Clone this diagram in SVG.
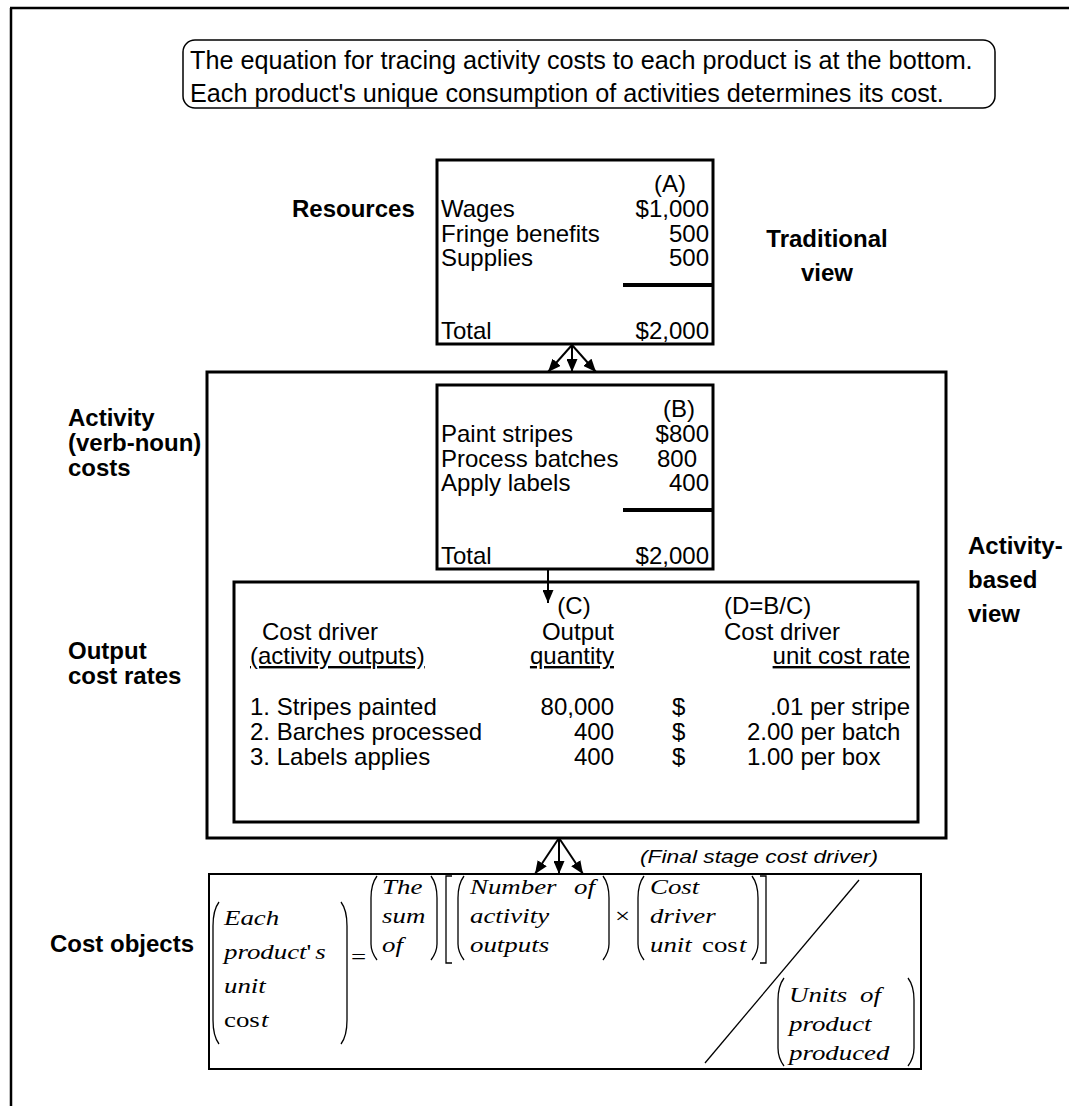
<svg xmlns="http://www.w3.org/2000/svg" width="1069" height="1106" viewBox="0 0 1069 1106">
<style>
  text { font-family: "Liberation Sans", Arial, Helvetica, sans-serif; font-size: 24px; fill: #000; }
  .b { font-weight: bold; }
  .r { text-anchor: end; }
  .m { text-anchor: middle; }
  .ul { text-decoration: underline; }
  .it { font-style: italic; }
  .eq { font-family: "Liberation Serif", "Times New Roman", Times, serif; font-style: italic; font-size: 21px; }
  .up { font-style: normal; }
  .box { fill: none; stroke: #000; stroke-width: 3; }
  .thin { fill: none; stroke: #000; stroke-width: 2; }
  .fence { fill: none; stroke: #000; stroke-width: 1.3; }
  .conn { stroke: #000; stroke-width: 2; fill: none; marker-end: url(#head); }
</style>
<defs>
  <marker id="head" viewBox="0 0 13 11" refX="13" refY="5.5" markerWidth="13" markerHeight="11" markerUnits="userSpaceOnUse" orient="auto">
    <path d="M0,0 L13,5.5 L0,11 z" fill="#000"/>
  </marker>
</defs>

<!-- page frame (top and left rules) -->
<path d="M10,8 H1069 M11,8 V1106" stroke="#000" stroke-width="2.5" fill="none"/>

<!-- explanatory note -->
<g id="note">
  <rect x="183" y="40" width="812" height="68" rx="12" ry="12" fill="none" stroke="#000" stroke-width="1.5"/>
  <text x="190" y="69" style="font-size:25.2px">The equation for tracing activity costs to each product is at the bottom.</text>
  <text x="190" y="102" style="font-size:25.2px">Each product's unique consumption of activities determines its cost.</text>
</g>

<!-- side labels -->
<g id="labels">
  <text class="b" x="292" y="217">Resources</text>
  <text class="b m" x="827" y="247">Traditional</text>
  <text class="b m" x="827" y="281">view</text>
  <text class="b" x="68" y="426">Activity</text>
  <text class="b" x="68" y="451">(verb-noun)</text>
  <text class="b" x="68" y="476">costs</text>
  <text class="b" x="68" y="659">Output</text>
  <text class="b" x="68" y="684">cost rates</text>
  <text class="b" x="968" y="554">Activity-</text>
  <text class="b" x="968" y="588">based</text>
  <text class="b" x="968" y="622">view</text>
  <text class="b" x="50" y="952">Cost objects</text>
  <text class="it" x="640" y="863" style="font-size:19px" textLength="238" lengthAdjust="spacingAndGlyphs">(Final stage cost driver)</text>
</g>

<!-- resources table (A) -->
<g id="resources">
  <rect class="box" x="437" y="160" width="276" height="184"/>
  <text class="r" x="686" y="192">(A)</text>
  <text x="441" y="217">Wages</text>
  <text class="r" x="709" y="217">$1,000</text>
  <text x="441" y="242">Fringe benefits</text>
  <text class="r" x="709" y="242">500</text>
  <text x="441" y="266">Supplies</text>
  <text class="r" x="709" y="266">500</text>
  <line x1="623" y1="285" x2="713" y2="285" stroke="#000" stroke-width="4"/>
  <text x="441" y="339">Total</text>
  <text class="r" x="709" y="339">$2,000</text>
</g>

<!-- activity-based view container -->
<g id="activity-based">
  <rect class="box" x="207" y="372" width="739" height="466"/>
</g>

<!-- activity costs table (B) -->
<g id="activities">
  <rect class="box" x="437" y="385" width="276" height="184"/>
  <text class="r" x="695" y="417">(B)</text>
  <text x="441" y="442">Paint stripes</text>
  <text class="r" x="709" y="442">$800</text>
  <text x="441" y="467">Process batches</text>
  <text class="r" x="697" y="467">800</text>
  <text x="441" y="491">Apply labels</text>
  <text class="r" x="709" y="491">400</text>
  <line x1="623" y1="510" x2="713" y2="510" stroke="#000" stroke-width="4"/>
  <text x="441" y="564">Total</text>
  <text class="r" x="709" y="564">$2,000</text>
</g>

<!-- cost driver rates table (C, D) -->
<g id="rates">
  <rect class="box" x="234" y="582" width="684" height="240"/>
  <text class="m" x="574" y="614">(C)</text>
  <text x="724" y="614">(D=B/C)</text>
  <text x="262" y="640">Cost driver</text>
  <text class="r" x="614" y="640">Output</text>
  <text x="724" y="640">Cost driver</text>
  <text class="ul" x="250" y="664">(activity outputs)</text>
  <text class="r ul" x="614" y="664">quantity</text>
  <text class="r ul" x="910" y="664">unit cost rate</text>
  <text x="250" y="715">1. Stripes painted</text>
  <text class="r" x="614" y="715">80,000</text>
  <text x="672" y="715">$</text>
  <text class="r" x="910" y="715">.01 per stripe</text>
  <text x="250" y="740">2. Barches processed</text>
  <text class="r" x="614" y="740">400</text>
  <text x="672" y="740">$</text>
  <text x="747" y="740">2.00 per batch</text>
  <text x="250" y="765">3. Labels applies</text>
  <text class="r" x="614" y="765">400</text>
  <text x="672" y="765">$</text>
  <text x="747" y="765">1.00 per box</text>
</g>

<!-- cost object equation -->
<g id="cost-objects">
  <rect class="thin" x="209" y="874" width="712" height="195"/>
  <!-- (Each product's unit cost) -->
  <path class="fence" d="M219,902 Q213,910 213,926 L213,1020 Q213,1036 219,1044"/>
  <path class="fence" d="M341,902 Q347,910 347,926 L347,1020 Q347,1036 341,1044"/>
  <text class="eq" transform="matrix(1.28 0 0 1 224 925)">Each</text>
  <text class="eq" transform="matrix(1.28 0 0 1 224 959)">product<tspan class="up">'</tspan><tspan dx="3">s</tspan></text>
  <text class="eq" transform="matrix(1.28 0 0 1 224 993)">unit</text>
  <text class="eq" transform="matrix(1.28 0 0 1 224 1027)"><tspan class="up">cos</tspan><tspan dx="1">t</tspan></text>
  <text class="eq up" transform="matrix(1.28 0 0 1 351 964)">=</text>
  <!-- (The sum of) -->
  <path class="fence" d="M377,876 Q371,884 371,898 L371,944 Q371,952 377,960"/>
  <path class="fence" d="M431,876 Q437,884 437,898 L437,944 Q437,952 431,960"/>
  <text class="eq" transform="matrix(1.28 0 0 1 382 894)">The</text>
  <text class="eq" transform="matrix(1.28 0 0 1 382 923)">sum</text>
  <text class="eq" transform="matrix(1.28 0 0 1 382 952)">of</text>
  <!-- [ ... ] -->
  <path class="fence" d="M452,876 L446,876 L446,963 L452,963"/>
  <path class="fence" d="M760,876 L766,876 L766,963 L760,963"/>
  <!-- (Number of activity outputs) -->
  <path class="fence" d="M464,876 Q458,884 458,898 L458,944 Q458,952 464,960"/>
  <path class="fence" d="M603,876 Q609,884 609,898 L609,944 Q609,952 603,960"/>
  <text class="eq" transform="matrix(1.28 0 0 1 470 894)">Number</text>
  <text class="eq" transform="matrix(1.28 0 0 1 574 894)">of</text>
  <text class="eq" transform="matrix(1.28 0 0 1 470 923)">activity</text>
  <text class="eq" transform="matrix(1.28 0 0 1 470 952)">outputs</text>
  <text class="eq up" transform="matrix(1.28 0 0 1 615 923)">×</text>
  <!-- (Cost driver unit cost) -->
  <path class="fence" d="M644,876 Q638,884 638,898 L638,944 Q638,952 644,960"/>
  <path class="fence" d="M752,876 Q758,884 758,898 L758,944 Q758,952 752,960"/>
  <text class="eq" transform="matrix(1.28 0 0 1 650 894)">Cost</text>
  <text class="eq" transform="matrix(1.28 0 0 1 650 923)">driver</text>
  <text class="eq" transform="matrix(1.28 0 0 1 650 952)">unit</text>
  <text class="eq" transform="matrix(1.28 0 0 1 702 952)"><tspan class="up">cos</tspan><tspan dx="1">t</tspan></text>
  <!-- division stroke -->
  <line x1="705" y1="1063" x2="859" y2="880" stroke="#000" stroke-width="1.3"/>
  <!-- (Units of product produced) -->
  <path class="fence" d="M784,978 Q778,986 778,1000 L778,1048 Q778,1058 784,1066"/>
  <path class="fence" d="M908,978 Q914,986 914,1000 L914,1048 Q914,1058 908,1066"/>
  <text class="eq" transform="matrix(1.28 0 0 1 789 1002)">Units</text>
  <text class="eq" transform="matrix(1.28 0 0 1 860 1002)">of</text>
  <text class="eq" transform="matrix(1.28 0 0 1 789 1031)">product</text>
  <text class="eq" transform="matrix(1.28 0 0 1 789 1060)">produced</text>
</g>

<!-- connectors -->
<g id="connectors">
  <line class="conn" x1="572" y1="345" x2="548" y2="372"/>
  <line class="conn" x1="572" y1="345" x2="572" y2="372"/>
  <line class="conn" x1="572" y1="345" x2="596" y2="372"/>
  <line class="conn" x1="548" y1="569" x2="548" y2="603"/>
  <line class="conn" x1="559" y1="838" x2="535" y2="874"/>
  <line class="conn" x1="559" y1="838" x2="559" y2="874"/>
  <line class="conn" x1="559" y1="838" x2="583" y2="874"/>
</g>
</svg>
